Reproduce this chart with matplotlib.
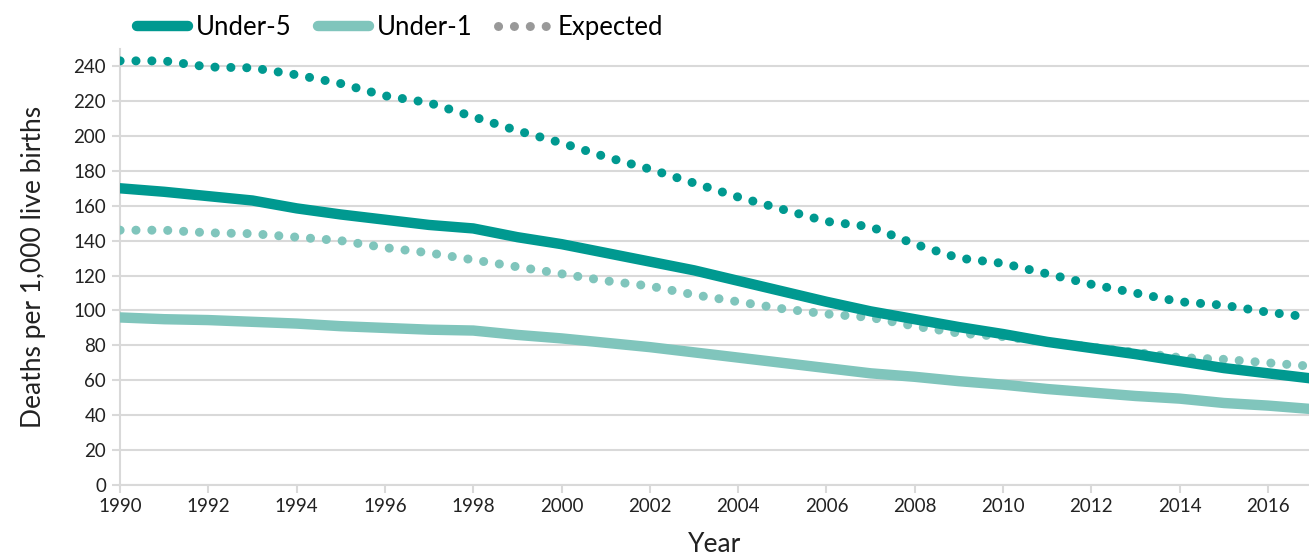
import matplotlib
matplotlib.use("Agg")
import matplotlib.pyplot as plt
from matplotlib.lines import Line2D

plt.rcParams['font.family'] = ['Lato', 'DejaVu Sans']

years = list(range(1990, 2018))
under5 = [170, 168, 165.5, 163, 158.5, 155, 152, 149, 147, 142, 138, 133, 128, 123, 117, 111,
          105, 99.5, 95, 90.5, 86.5, 82, 78.5, 75, 71, 67, 64, 61]
under1 = [96, 95, 94.5, 93.5, 92.5, 91, 90, 89, 88.5, 86, 84, 81.5, 79, 76, 73, 70,
          67, 64, 62, 59.5, 57.5, 55, 53, 51, 49.5, 47, 45.5, 43.5]
expected5 = [243, 243, 239.5, 239, 235, 230, 223, 219, 211, 203, 196, 188, 181, 173, 165, 158,
             151, 148, 138, 130, 127, 121, 115, 110, 105, 103, 99, 96]
expected1 = [146, 146, 144.5, 144, 142, 140, 136, 133, 129, 125, 121, 117, 114, 109, 105, 101,
             98, 96, 91, 87, 85, 82, 79, 76, 73, 72, 70, 68]

dark = '#009990'
light = '#80C5BC'
grid_c = '#D9D9D9'

fig = plt.figure(figsize=(13.09, 5.58), dpi=100)
ax = fig.add_axes([0.0917, 0.1308, 0.9083, 0.782])

dots = (0, (0.01, 1.75))
ax.plot(years, expected5, color=dark, lw=6.5, linestyle=dots, dash_capstyle='round', zorder=3)
ax.plot(years, expected1, color=light, lw=6.5, linestyle=dots, dash_capstyle='round', zorder=3)
ax.plot(years, under5, color=dark, lw=7.5, solid_capstyle='round', zorder=4)
ax.plot(years, under1, color=light, lw=7.5, solid_capstyle='round', zorder=4)

ax.set_xlim(1990, 2016.93)
ax.set_ylim(0, 250)
ax.set_yticks(range(0, 241, 20))
ax.set_xticks(range(1990, 2017, 2))
ax.yaxis.grid(True, color=grid_c, lw=1.5)
ax.set_axisbelow(True)
for s in ['top', 'right']:
    ax.spines[s].set_visible(False)
for s in ['left', 'bottom']:
    ax.spines[s].set_color(grid_c)
    ax.spines[s].set_linewidth(1.5)
ax.tick_params(axis='both', colors=grid_c, labelcolor='#222222', labelsize=13.5, width=1.5, length=6)
ax.tick_params(axis='y', pad=4)

ax.set_ylabel('Deaths per 1,000 live births', fontsize=19, color='#222222', labelpad=20)
ax.set_xlabel('Year', fontsize=19, color='#222222', labelpad=12)

handles = [Line2D([], [], color=dark, lw=7.5, solid_capstyle='round'),
           Line2D([], [], color=light, lw=7.5, solid_capstyle='round'),
           Line2D([], [], color='#999999', lw=6.5, linestyle=dots, dash_capstyle='round')]
fig.legend(handles, ['Under-5', 'Under-1', 'Expected'], loc='upper left',
           bbox_to_anchor=(0.087, 1.015), ncol=3, frameon=False, fontsize=18.5,
           handlelength=2.0, handletextpad=0.3, columnspacing=1.0)

fig.savefig('out.png', dpi=100)
